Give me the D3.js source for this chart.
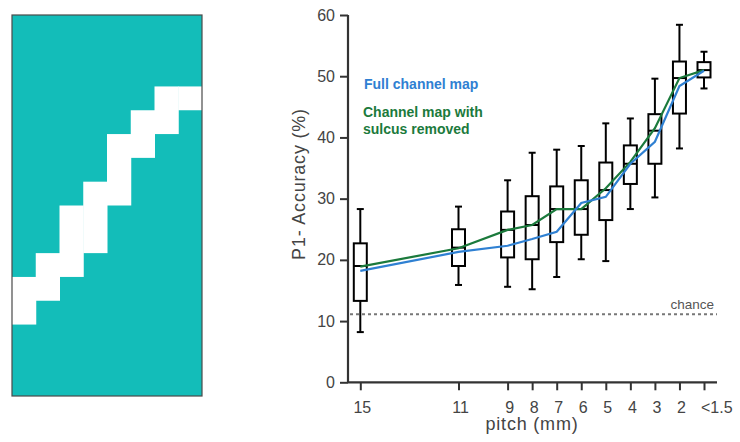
<!DOCTYPE html>
<html>
<head>
<meta charset="utf-8">
<script src="https://cdn.jsdelivr.net/npm/d3@7"></script>
<style>
  body { margin: 0; background: #fff; }
  svg { display: block; font-family: "Liberation Sans", Arial, sans-serif; }
</style>
</head>
<body>
<svg id="chart" width="740" height="442"></svg>
<script>
// channel map: 8 columns x 16 rows, white band = sulcus rows per column
const mapCols = 8;
const mapRows = 16;
const sulcusTop = [11, 10, 8, 7, 5, 4, 3, 3];
const sulcusBottom = [13, 12, 11, 10, 8, 6, 5, 4];

// pitch positions (mm); "<1.5" is plotted at 1
const pitch = [15, 11, 9, 8, 7, 6, 5, 4, 3, 2, 1];
const pitchLabels = ["15", "11", "9", "8", "7", "6", "5", "4", "3", "2", "<1.5"];

// box stats (%)
const whiskerLow = [8.2, 15.9, 15.6, 15.2, 17.2, 20.1, 19.8, 28.3, 30.2, 38.2, 48.0];
const q1 = [13.3, 19.0, 20.4, 20.1, 22.9, 24.1, 26.5, 32.4, 35.7, 43.9, 49.8];
const median = [19.0, 22.0, 24.9, 25.7, 28.3, 28.3, 31.4, 35.7, 41.1, 49.7, 51.0];
const q3 = [22.7, 25.0, 27.9, 30.4, 32.0, 33.0, 35.9, 38.7, 43.8, 52.4, 52.3];
const whiskerHigh = [28.3, 28.7, 33.0, 37.5, 38.0, 38.6, 42.3, 43.1, 49.6, 58.4, 54.0];

// mean accuracy lines (%)
const fullMap = [18.2, 21.3, 22.3, 23.4, 24.6, 29.3, 30.3, 35.7, 39.3, 48.4, 50.9];
const sulcusRemoved = [18.9, 21.9, 24.9, 25.7, 28.3, 28.3, 31.7, 36.0, 41.5, 49.7, 51.0];

const chance = 11.1;
const yTicks = [0, 10, 20, 30, 40, 50, 60];

const svg = d3.select("#chart");

// ---- left panel: channel map ----
const mapX = d3.scaleLinear().domain([0, mapCols]).range([12, 202]);
const mapY = d3.scaleLinear().domain([0, mapRows]).range([15, 396]);

const map = svg.append("g");
map.append("rect")
  .attr("x", mapX(0)).attr("y", mapY(0))
  .attr("width", mapX(mapCols) - mapX(0))
  .attr("height", mapY(mapRows) - mapY(0))
  .attr("fill", "#13bdb9");

map.selectAll("rect.sulcus")
  .data(sulcusTop)
  .enter().append("rect")
  .attr("class", "sulcus")
  .attr("x", (d, i) => mapX(i))
  .attr("y", d => mapY(d))
  .attr("width", mapX(1) - mapX(0) + 0.5)
  .attr("height", (d, i) => mapY(sulcusBottom[i]) - mapY(d))
  .attr("fill", "#fff");

map.append("rect")
  .attr("x", mapX(0)).attr("y", mapY(0))
  .attr("width", mapX(mapCols) - mapX(0))
  .attr("height", mapY(mapRows) - mapY(0))
  .attr("fill", "none")
  .attr("stroke", "#4a4a4a")
  .attr("stroke-width", 1.2);

// ---- right panel: accuracy vs pitch ----
const x = d3.scaleLinear().domain([15, 1]).range([360.3, 704]);
const y = d3.scaleLinear().domain([0, 60]).range([382.3, 15]);
const axisLeft = 348;
const axisRight = 717;

const yAxis = svg.append("g")
  .attr("transform", `translate(${axisLeft},0)`)
  .call(d3.axisLeft(y).tickValues(yTicks).tickSize(8).tickPadding(5).tickSizeOuter(0));

const xAxis = svg.append("g")
  .attr("transform", `translate(0,${y(0)})`)
  .call(d3.axisBottom(x).tickValues(pitch).tickFormat((d, i) => pitchLabels[i])
    .tickSize(8).tickPadding(11).tickSizeOuter(0));
xAxis.select(".domain").attr("d", `M${axisLeft},0H${axisRight}`);

[yAxis, xAxis].forEach(a => {
  a.select(".domain").attr("stroke", "#333").attr("stroke-width", 2.2);
  a.selectAll(".tick line").attr("stroke", "#333").attr("stroke-width", 2);
  a.selectAll(".tick text").attr("fill", "#444").attr("font-size", 16)
    .attr("font-family", "'Liberation Sans', Arial, sans-serif");
});
yAxis.select(".domain").attr("d", `M0,${y(60)}V${y(0)}`);
// labels sit a touch right of their ticks; "<1.5" starts at its tick
xAxis.selectAll(".tick text").attr("dx", 1.5);
xAxis.selectAll(".tick").filter(d => d === 1).select("text")
  .attr("text-anchor", "start").attr("dx", -3.5);

// chance level
svg.append("line")
  .attr("x1", axisLeft + 2).attr("x2", axisRight)
  .attr("y1", y(chance)).attr("y2", y(chance))
  .attr("stroke", "#777").attr("stroke-width", 2)
  .attr("stroke-dasharray", "3,3");
svg.append("text")
  .attr("x", axisRight - 3).attr("y", y(chance) - 5)
  .attr("text-anchor", "end")
  .attr("font-size", 13.5).attr("fill", "#555")
  .text("chance");

// boxes
const boxW = 13;
const capW = 7;
const boxes = svg.append("g").attr("stroke", "#000").attr("stroke-width", 2).attr("fill", "none");
pitch.forEach((p, i) => {
  const cx = x(p);
  const g = boxes.append("g");
  g.append("line").attr("x1", cx).attr("x2", cx).attr("y1", y(whiskerHigh[i])).attr("y2", y(q3[i]));
  g.append("line").attr("x1", cx).attr("x2", cx).attr("y1", y(q1[i])).attr("y2", y(whiskerLow[i]));
  g.append("line").attr("x1", cx - capW / 2).attr("x2", cx + capW / 2).attr("y1", y(whiskerHigh[i])).attr("y2", y(whiskerHigh[i]));
  g.append("line").attr("x1", cx - capW / 2).attr("x2", cx + capW / 2).attr("y1", y(whiskerLow[i])).attr("y2", y(whiskerLow[i]));
  g.append("rect").attr("x", cx - boxW / 2).attr("y", y(q3[i]))
    .attr("width", boxW).attr("height", y(q1[i]) - y(q3[i]))
    .attr("fill", "#fff");
  g.append("line").attr("x1", cx - boxW / 2).attr("x2", cx + boxW / 2).attr("y1", y(median[i])).attr("y2", y(median[i]));
});

// mean lines
const line = d3.line().x((d, i) => x(pitch[i])).y(d => y(d));
svg.append("path").datum(sulcusRemoved)
  .attr("d", line).attr("fill", "none")
  .attr("stroke", "#1b7a3c").attr("stroke-width", 2.2);
svg.append("path").datum(fullMap)
  .attr("d", line).attr("fill", "none")
  .attr("stroke", "#2f80d2").attr("stroke-width", 2.2);

// legend
const legend = svg.append("g").attr("font-size", 14).attr("font-weight", "bold");
legend.append("text").attr("x", 364).attr("y", 89).attr("fill", "#2f80d2").text("Full channel map");
legend.append("text").attr("x", 363).attr("y", 117).attr("fill", "#1b7a3c").text("Channel map with");
legend.append("text").attr("x", 363).attr("y", 134).attr("fill", "#1b7a3c").text("sulcus removed");

// axis titles
svg.append("text")
  .attr("transform", "translate(305,184) rotate(-90)")
  .attr("text-anchor", "middle")
  .attr("font-size", 18).attr("letter-spacing", 0.8).attr("fill", "#444")
  .text("P1- Accuracy (%)");
svg.append("text")
  .attr("x", 532).attr("y", 430)
  .attr("text-anchor", "middle")
  .attr("font-size", 18).attr("letter-spacing", 0.8).attr("fill", "#444")
  .text("pitch (mm)");
</script>
</body>
</html>
